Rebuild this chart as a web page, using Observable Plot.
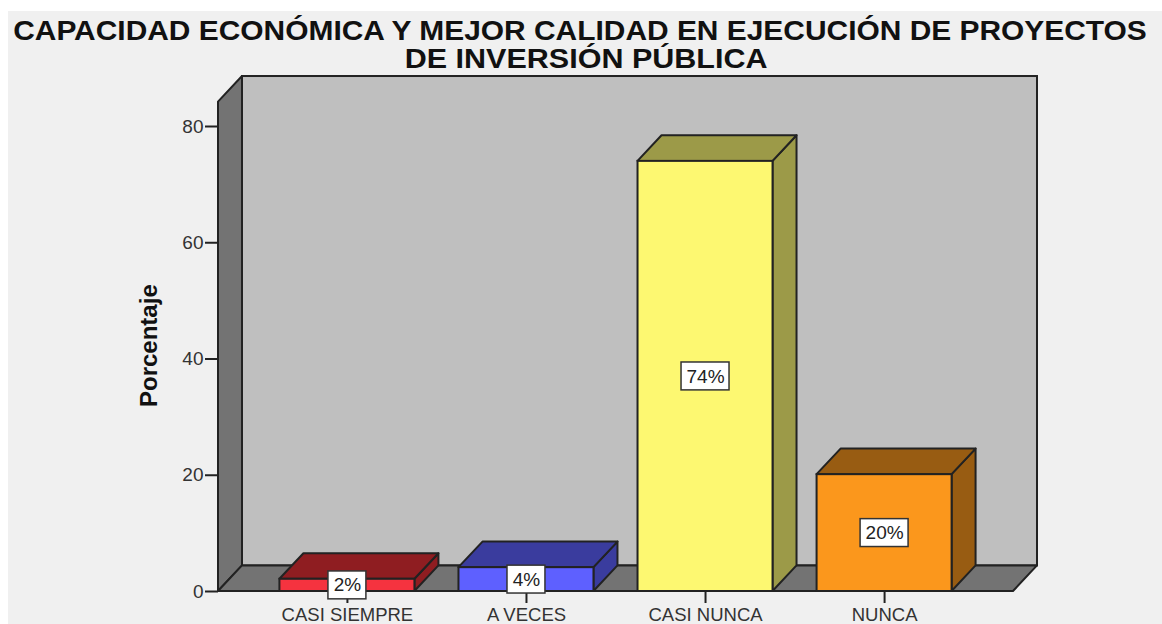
<!DOCTYPE html>
<html><head><meta charset="utf-8">
<script src="https://cdn.jsdelivr.net/npm/d3@7"></script>
<script src="https://cdn.jsdelivr.net/npm/@observablehq/plot@0.6"></script>
<style>
html,body{margin:0;padding:0;background:#fff;overflow:hidden;height:100%}
#wrap{position:absolute;left:8px;top:11px;right:0;bottom:0;background:#f0f0f0;overflow:hidden}
#title{height:61px;width:1144px;text-align:center;font:bold 27px/28px "Liberation Sans",Arial,sans-serif;color:#111;padding-top:6px;box-sizing:border-box;white-space:nowrap;transform:scaleX(1.108);transform-origin:572px 0}
#title span{display:inline-block;transform:translateX(6px) scaleX(1.02)}
svg{display:block}
</style></head><body>
<div id="wrap">
<div id="title">CAPACIDAD ECONÓMICA Y MEJOR CALIDAD EN EJECUCIÓN DE PROYECTOS<br><span>DE INVERSIÓN PÚBLICA</span></div>
<div id="chart"></div>
</div>
<script>
const categories = ["CASI SIEMPRE", "A VECES", "CASI NUNCA", "NUNCA"];
const values = [2.1, 4.1, 74, 20.1];
const labels = ["2%", "4%", "74%", "20%"];
const frontColors = ["#f5333f", "#5e60ff", "#fdf871", "#fb971c"];
const shadeColors = ["#8f1d21", "#3a3c9e", "#9c9a48", "#985c12"];
const yTicks = [0, 20, 40, 60, 80];

const ink = "#222";
const halfBar = 0.377, depthX = 0.134, depthY = 4.4;
const floorL = -0.72, floorR = 3.72, wallTop = 84.2;

const marks = [];
// back wall, left wall, floor
marks.push(Plot.rect([0], {x1: floorL + depthX, x2: floorR + depthX, y1: depthY, y2: wallTop + depthY, fill: "#bfbfbf", stroke: ink, strokeWidth: 2}));
marks.push(Plot.areaY([[floorL, 0, wallTop], [floorL + depthX, depthY, wallTop + depthY]], {x: d => d[0], y1: d => d[1], y2: d => d[2], fill: "#737373", stroke: ink, strokeWidth: 2}));
marks.push(Plot.areaX([[0, floorL, floorR], [depthY, floorL + depthX, floorR + depthX]], {y: d => d[0], x1: d => d[1], x2: d => d[2], fill: "#737373", stroke: ink, strokeWidth: 2}));

marks.push(Plot.axisY({ticks: yTicks, tickSize: 13, tickPadding: 2, fontSize: 19, label: null, stroke: ink, strokeWidth: 2, color: "#333"}));
marks.push(Plot.axisX({ticks: [0, 1, 2, 3], tickFormat: i => categories[i], tickSize: 12, tickPadding: 4, fontSize: 18.5, label: null, stroke: ink, strokeWidth: 2, color: "#333", textStroke: "none"}));

categories.forEach((c, i) => {
  const v = values[i];
  const l = i - halfBar, r = i + halfBar;
  marks.push(Plot.areaY([[r, 0, v], [r + depthX, depthY, v + depthY]], {x: d => d[0], y1: d => d[1], y2: d => d[2], fill: shadeColors[i], stroke: ink, strokeWidth: 2}));
  marks.push(Plot.areaX([[v, l, r], [v + depthY, l + depthX, r + depthX]], {y: d => d[0], x1: d => d[1], x2: d => d[2], fill: shadeColors[i], stroke: ink, strokeWidth: 2}));
  marks.push(Plot.rect([0], {x1: l, x2: r, y1: 0, y2: v, fill: frontColors[i], stroke: ink, strokeWidth: 2}));
});

// value labels in white boxes
categories.forEach((c, i) => {
  const mid = values[i] / 2;
  const hw = labels[i].length === 2 ? 0.106 : 0.134;
  marks.push(Plot.rect([0], {x1: i - hw, x2: i + hw, y1: mid - 2.4, y2: mid + 2.4, fill: "#fff", stroke: "#333", strokeWidth: 1.5}));
  marks.push(Plot.text([labels[i]], {x: i, y: mid, text: d => d, fontSize: 19, fill: "#222"}));
});

marks.push(Plot.text(["Porcentaje"], {x: -1.105, y: 42.3, text: d => d, rotate: -90, fontSize: 24, fontWeight: "bold", fill: "#111"}));

const svg = Plot.plot({
  width: 1154, height: 552,
  marginLeft: 210, marginRight: 149, marginTop: 0, marginBottom: 33,
  x: {domain: [floorL, floorR], range: [210, 1005], axis: null},
  y: {domain: [0, 80], range: [519, 54], axis: null},
  style: {background: "transparent", fontFamily: "'Liberation Sans',Arial,sans-serif", overflow: "visible", maxWidth: "none"},
  marks
});
document.getElementById("chart").appendChild(svg);
</script>
</body></html>
